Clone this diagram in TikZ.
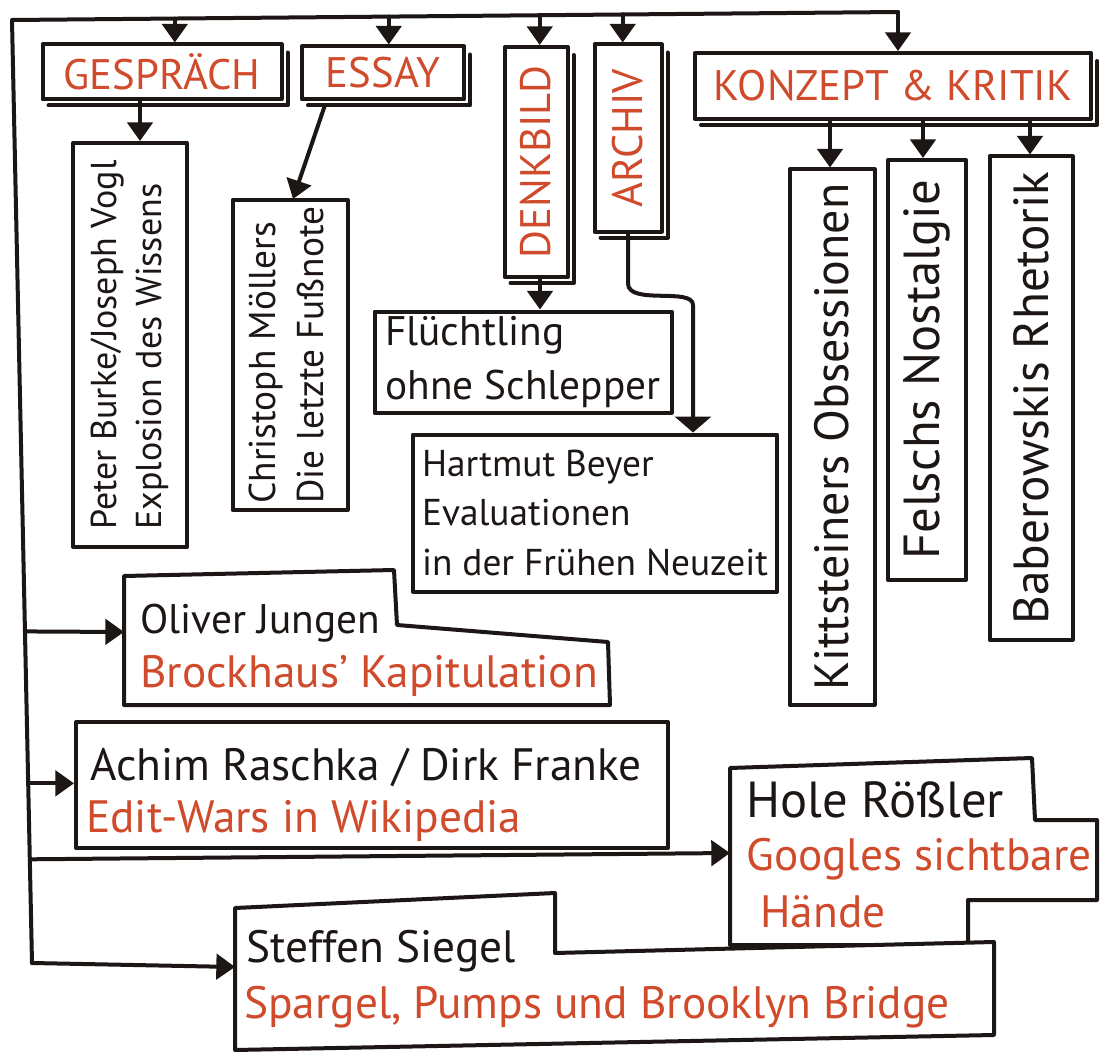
\documentclass[tikz,border=0pt]{standalone}
\usepackage{fontspec}
\setmainfont{PT Sans}
\usetikzlibrary{arrows.meta,calc}
\definecolor{hred}{RGB}{208,74,44}
\definecolor{ink}{RGB}{28,22,20}
\tikzset{
  line/.style={draw=ink, line width=3pt, line cap=round, line join=round},
  box/.style={line, fill=white, inner sep=0pt},
  wh/.style 2 args={minimum width=#1*0.75pt, minimum height=#2*0.75pt},
  arr/.style={line, -{Triangle[width=19pt,length=14pt]}},
  widearr/.style={line, -{Triangle[width=27pt,length=12pt]}},
  head/.style={text=hred, font=\fontsize{32}{36}\selectfont},
  vtxt/.style={text=ink, font=\fontsize{27}{34}\selectfont},
  txt/.style={text=ink, font=\fontsize{34}{40}\selectfont},
  rtxt/.style={text=hred, font=\fontsize{34}{40}\selectfont},
  shad/.style={draw=ink, line width=3pt, line cap=round, line join=round},
}
\newcommand\hshadow[1]{\draw[shad] ([shift={(4,10)}]#1.north east) -- ([shift={(4,4)}]#1.south east) -- ([shift={(8,4)}]#1.south west);}
\begin{document}
\begin{tikzpicture}[x=0.75pt,y=-0.75pt]
\fill[white] (0,0) rectangle (1101,1063);
\useasboundingbox (0,0) rectangle (1101,1063);

% heading boxes
\node[box, wh={239}{55}, head] (gesp) at (162,72) {GESPRÄCH};
\hshadow{gesp}
\node[box, wh={162}{53}, head] (essay) at (383,73) {ESSAY};
\hshadow{essay}
\node[box, wh={63}{230}, head] (denk) at (536,162) {\rotatebox{90}{DENKBILD}};
\hshadow{denk}
\node[box, wh={67}{187}, head] (archiv) at (628,138) {\rotatebox{90}{ARCHIV}};
\hshadow{archiv}
\node[box, wh={396}{66}, head] (konz) at (893,86) {KONZEPT \& KRITIK};
\hshadow{konz}

% vertical boxes
\node[box, wh={114}{404}, vtxt] (burke) at (130,345)
  {\rotatebox{90}{\begin{tabular}{@{}l@{}}Peter Burke/Joseph Vogl\\Explosion des Wissens\end{tabular}}};
\node[box, wh={115}{310}, vtxt, font=\fontsize{28}{36}\selectfont] (moell) at (290,355)
  {\rotatebox{90}{\begin{tabular}{@{}l@{}}Christoph Möllers\\Die letzte Fußnote\end{tabular}}};
\node[box, wh={85}{535}, vtxt, font=\fontsize{36}{40}\selectfont] (kitt) at (832,437) {\rotatebox{90}{Kittsteiners Obsessionen}};
\node[box, wh={78}{420}, vtxt, font=\fontsize{38}{40}\selectfont] (felsch) at (927,370) {\rotatebox{90}{Felschs Nostalgie}};
\node[box, wh={83}{483}, vtxt, font=\fontsize{37}{40}\selectfont] (bab) at (1031,398) {\rotatebox{90}{Baberowskis Rhetorik}};

% horizontal boxes
\node[box, wh={297}{101}, txt, align=left, font=\fontsize{31}{40}\selectfont] (flue) at (523,362) {Flüchtling\\ohne Schlepper};
\node[box, wh={364}{157}, txt, align=left, font=\fontsize{28}{37}\selectfont] (hart) at (595,513)
  {Hartmut Beyer\\Evaluationen\\in der Frühen Neuzeit};
\node[box, wh={592}{126}] (achim) at (372,785) {};
\node[txt, anchor=base west, inner sep=0pt] (achimA) at (90,780) {Achim Raschka / Dirk Franke};
\node[rtxt, anchor=base west, inner sep=0pt] (achimB) at (86,832) {Edit-Wars in Wikipedia};

% notched boxes
\draw[line, fill=white] (124,705) -- (124,576) -- (394,570) -- (397,625) -- (608,642) -- (610,705) -- cycle;
\coordinate (olW) at (124,632);
\node[txt, anchor=base west, inner sep=0pt, font=\fontsize{31}{40}\selectfont] (olA) at (140,633) {Oliver Jungen};
\node[rtxt, anchor=base west, inner sep=0pt] (olB) at (140,687) {Brockhaus' Kapitulation};

\draw[line, fill=white] (730,945) -- (730,768) -- (1032,758) -- (1035,820) -- (1097,820) -- (1097,900) -- (968,900) -- (968,945) -- cycle;
\coordinate (hoW) at (730,853);
\node[txt, anchor=base west, inner sep=0pt, font=\fontsize{38}{40}\selectfont] (hoA) at (746,817) {Hole Rößler};
\node[rtxt, anchor=base west, inner sep=0pt] (hoB) at (746,870) {Googles sichtbare};
\node[rtxt, anchor=base west, inner sep=0pt] (hoC) at (760,927) {Hände};

\draw[line, fill=white] (235,1050) -- (235,908) -- (555,893) -- (555,953) -- (994,942) -- (994,1035) -- cycle;
\coordinate (stW) at (235,967);
\node[txt, anchor=base west, inner sep=0pt] (stA) at (246,962) {Steffen Siegel};
\node[rtxt, anchor=base west, inner sep=0pt] (stB) at (244,1018) {Spargel, Pumps und Brooklyn Bridge};

% bus lines
\coordinate (busA) at (12,20);
\coordinate (busB) at (32,963);
\coordinate (busE) at (898,12);
\draw[line] (busB) -- (busA) -- (busE);
\draw[arr] (busE) -- (busE |- konz.north);
\coordinate (t1) at ($(busA)!(175,40)!(busE)$);
\coordinate (t2) at ($(busA)!(389,40)!(busE)$);
\coordinate (t3) at ($(busA)!(540,40)!(busE)$);
\coordinate (t4) at ($(busA)!(623,40)!(busE)$);
\draw[arr] (t1) -- (t1 |- gesp.north);
\draw[arr] (t2) -- (t2 |- essay.north);
\draw[arr] (t3) -- (t3 |- denk.north);
\draw[arr] (t4) -- (t4 |- archiv.north);

\coordinate (l1) at ($(busA)!(0,632)!(busB)$);
\coordinate (l2) at ($(busA)!(0,784)!(busB)$);
\coordinate (l3) at ($(busA)!(0,860)!(busB)$);
\draw[arr] (l1) -- (olW);
\draw[arr] (l2) -- (l2 -| achim.west);
\draw[arr] (l3) -- (hoW);
\draw[arr] (busB) -- (stW);

% sub arrows
\coordinate (g1) at (140,0);
\draw[arr] (gesp.south -| g1) -- (burke.north -| g1);
\coordinate (e1) at (325,105);
\coordinate (e2) at (293,199);
\draw[arr] (e1) -- (e2);
\coordinate (d1) at (540,0);
\draw[arr] (denk.south -| d1) -- (flue.north -| d1);
\coordinate (a1) at (693,0);
\draw[widearr] (archiv.south) -- ++(0,50) .. controls +(0,22) and +(0,-18) .. (693,305) -- (hart.north -| a1);
\coordinate (k1) at (830,0);
\coordinate (k2) at (923,0);
\coordinate (k3) at (1030,0);
\draw[arr] (konz.south -| k1) -- (kitt.north -| k1);
\draw[arr] (konz.south -| k2) -- (felsch.north -| k2);
\draw[arr] (konz.south -| k3) -- (bab.north -| k3);
\end{tikzpicture}
\end{document}
